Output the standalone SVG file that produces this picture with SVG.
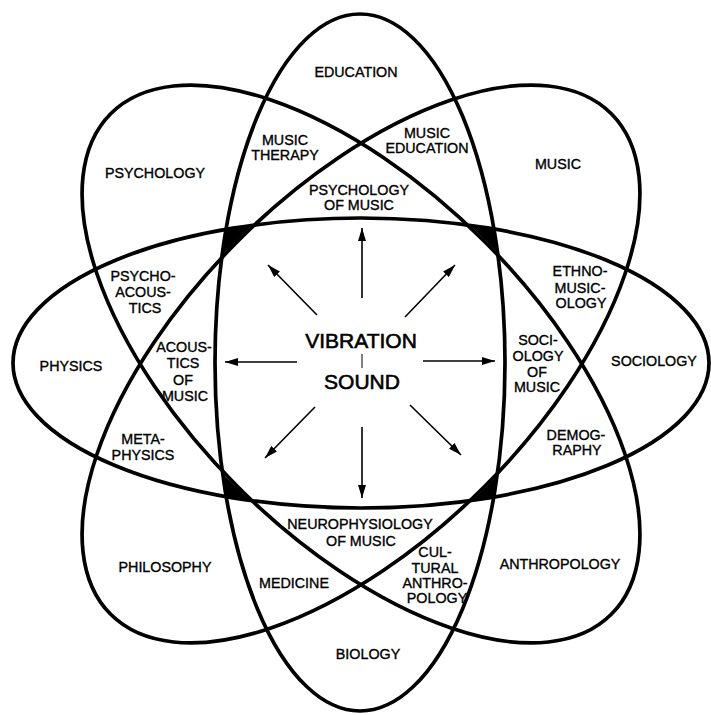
<svg xmlns="http://www.w3.org/2000/svg" width="711" height="715" viewBox="0 0 711 715">
  <style>
    .ring { fill: none; stroke: #000; stroke-width: 3.7; }
    .lbl { font-family: "Liberation Sans", Arial, Helvetica, sans-serif; font-size: 14.3px; fill: #000; stroke: #000; stroke-width: 0.35; text-anchor: middle; }
    .big { font-family: "Liberation Sans", Arial, Helvetica, sans-serif; font-size: 21px; fill: #000; stroke: #000; stroke-width: 0.6; text-anchor: middle; }
    .arrow { stroke: #000; stroke-width: 1.6; fill: none; marker-end: url(#ah); }
  </style>
  <defs>
    <marker id="ah" markerWidth="14" markerHeight="8" refX="13" refY="4" orient="auto" markerUnits="userSpaceOnUse">
      <path d="M0,0 L13,4 L0,8 Z" fill="#000"/>
    </marker>
    <clipPath id="clipV"><ellipse cx="360" cy="362.5" rx="145" ry="348.5"/></clipPath>
    <clipPath id="clipH"><ellipse cx="361" cy="363" rx="348" ry="145"/></clipPath>
  </defs>
  <rect width="711" height="715" fill="#fff"/>

  <!-- black wedges: inside both axis ellipses and inside exactly one diagonal ellipse -->
  <g id="wedges" clip-path="url(#clipV)">
    <g clip-path="url(#clipH)">
      <path fill="#000" fill-rule="evenodd" d="M610.6,114.4 A353,174 -45 1 1 111.4,613.6 A353,174 -45 1 1 610.6,114.4 Z M610.6,613.6 A353,174 45 1 1 111.4,114.4 A353,174 45 1 1 610.6,613.6 Z"/>
    </g>
  </g>

  <g id="ellipses">
    <ellipse id="ellipse-vertical" class="ring" cx="360" cy="362.5" rx="145" ry="348.5"/>
    <ellipse id="ellipse-horizontal" class="ring" cx="361" cy="363" rx="348" ry="145"/>
    <ellipse id="ellipse-diag-music" class="ring" cx="361" cy="364" rx="354" ry="174" transform="rotate(-45 361 364)"/>
    <ellipse id="ellipse-diag-psychology" class="ring" cx="361" cy="364" rx="354" ry="174" transform="rotate(45 361 364)"/>
  </g>

  <g id="connectors">
    <line class="arrow" x1="362" y1="298" x2="362" y2="228"/>
    <line class="arrow" x1="362" y1="427" x2="362" y2="498"/>
    <line class="arrow" x1="297" y1="362" x2="225" y2="362"/>
    <line class="arrow" x1="423" y1="361" x2="495" y2="361"/>
    <line class="arrow" x1="317" y1="315" x2="268" y2="265"/>
    <line class="arrow" x1="315" y1="407" x2="265" y2="458"/>
    <line class="arrow" x1="405" y1="317" x2="455" y2="265"/>
    <line class="arrow" x1="410" y1="405" x2="461" y2="455"/>
    <line x1="362" y1="354" x2="362" y2="368" stroke="#000" stroke-width="1"/>
  </g>

  <g id="center">
    <text class="big" x="361" y="348">VIBRATION</text>
    <text class="big" x="362" y="389">SOUND</text>
  </g>

  <g id="education"><text class="lbl" x="356" y="77">EDUCATION</text></g>
  <g id="music-therapy"><text class="lbl" x="285" y="145">MUSIC</text><text class="lbl" x="285" y="160">THERAPY</text></g>
  <g id="music-education"><text class="lbl" x="427" y="138">MUSIC</text><text class="lbl" x="427" y="153">EDUCATION</text></g>
  <g id="psychology-of-music"><text class="lbl" x="359" y="195">PSYCHOLOGY</text><text class="lbl" x="359" y="210">OF MUSIC</text></g>
  <g id="psychology"><text class="lbl" x="155" y="178">PSYCHOLOGY</text></g>
  <g id="music"><text class="lbl" x="558" y="169">MUSIC</text></g>
  <g id="psychoacoustics"><text class="lbl" x="143" y="281">PSYCHO-</text><text class="lbl" x="143" y="297">ACOUS-</text><text class="lbl" x="145" y="313">TICS</text></g>
  <g id="physics"><text class="lbl" x="71" y="371">PHYSICS</text></g>
  <g id="acoustics-of-music"><text class="lbl" x="184" y="352">ACOUS-</text><text class="lbl" x="183" y="368">TICS</text><text class="lbl" x="183" y="385">OF</text><text class="lbl" x="185" y="401">MUSIC</text></g>
  <g id="metaphysics"><text class="lbl" x="143" y="444">META-</text><text class="lbl" x="143" y="460">PHYSICS</text></g>
  <g id="ethnomusicology"><text class="lbl" x="580" y="276">ETHNO-</text><text class="lbl" x="580" y="293">MUSIC-</text><text class="lbl" x="581" y="308">OLOGY</text></g>
  <g id="sociology"><text class="lbl" x="654" y="366">SOCIOLOGY</text></g>
  <g id="sociology-of-music"><text class="lbl" x="538" y="345">SOCI-</text><text class="lbl" x="538" y="361">OLOGY</text><text class="lbl" x="537" y="377">OF</text><text class="lbl" x="537" y="392">MUSIC</text></g>
  <g id="demography"><text class="lbl" x="576" y="440">DEMOG-</text><text class="lbl" x="577" y="455">RAPHY</text></g>
  <g id="philosophy"><text class="lbl" x="165" y="572">PHILOSOPHY</text></g>
  <g id="medicine"><text class="lbl" x="294" y="588">MEDICINE</text></g>
  <g id="neurophysiology-of-music"><text class="lbl" x="360" y="529">NEUROPHYSIOLOGY</text><text class="lbl" x="361" y="546">OF MUSIC</text></g>
  <g id="cultural-anthropology"><text class="lbl" x="435" y="557">CUL-</text><text class="lbl" x="435" y="573">TURAL</text><text class="lbl" x="435" y="588">ANTHRO-</text><text class="lbl" x="437" y="603">POLOGY</text></g>
  <g id="anthropology"><text class="lbl" x="560" y="569">ANTHROPOLOGY</text></g>
  <g id="biology"><text class="lbl" x="368" y="659">BIOLOGY</text></g>
</svg>
